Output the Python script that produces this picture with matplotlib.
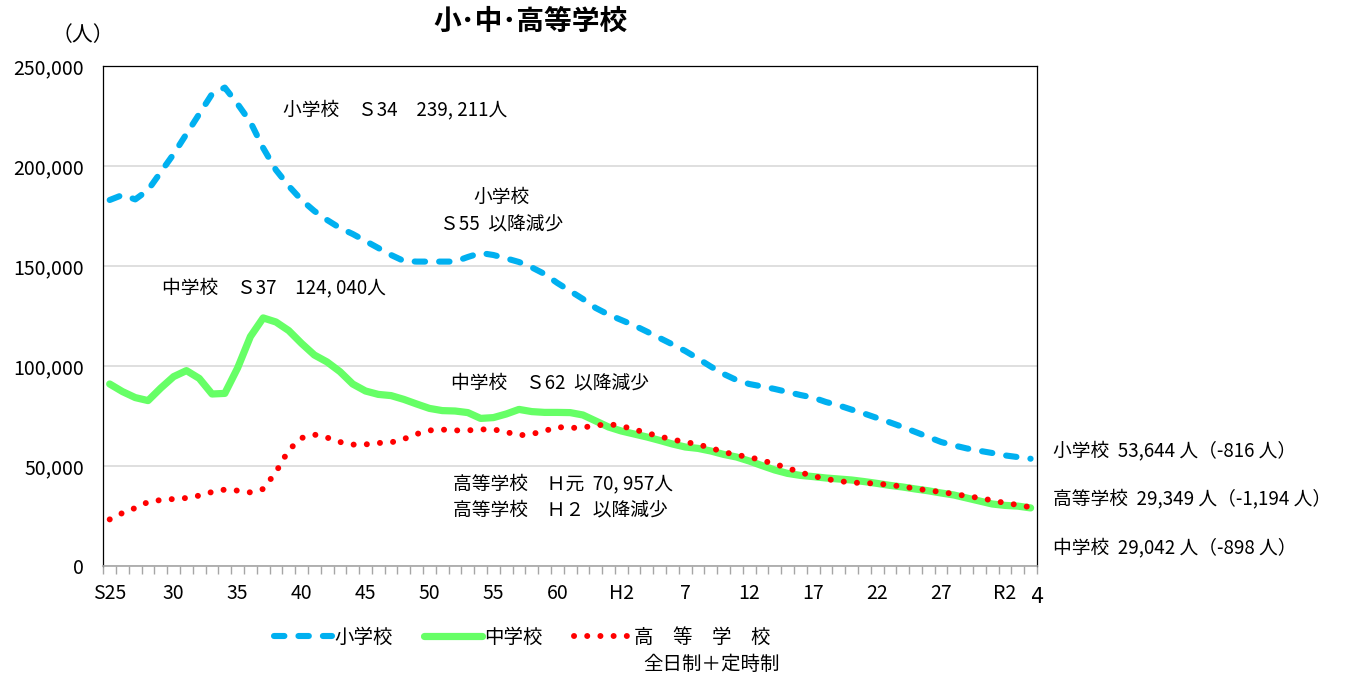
#!/usr/bin/env python
import matplotlib
matplotlib.use('Agg')
import matplotlib.pyplot as plt
from matplotlib.ticker import FuncFormatter, FixedLocator
import matplotlib.transforms as mtransforms

plt.rcParams['font.family'] = ['Noto Sans CJK JP', 'DejaVu Sans']

# 1950 (S25) .. 2022 (R4)
years = list(range(1950, 2023))
tick_years = [1950, 1955, 1960, 1965, 1970, 1975, 1980, 1985, 1990, 1995,
              2000, 2005, 2010, 2015, 2020]
tick_labels = ['S25', '30', '35', '40', '45', '50', '55', '60', 'H2', '7',
               '12', '17', '22', '27', 'R2']

elementary = [
  183000, 185500, 183300, 188000, 197000, 206000, 216000, 226000, 236000, 239211,
  231000, 222000, 209000, 198000, 190000, 183000, 177500, 173000, 169000, 166000,
  162500, 159000, 155500, 152500, 152200, 152200, 152200, 152200, 154500, 156500,
  155500, 153800, 152000, 149300, 146000, 141500, 137500, 133500, 129000, 125700,
  123000, 120300, 117200, 114000, 110800, 107500, 103700, 99700, 96000, 93000,
  91000, 89800, 88500, 87000, 85500, 84200, 82000, 80300, 78200, 76200,
  74000, 71800, 69500, 67000, 64500, 62000, 60300, 58800, 57600, 56500,
  55300, 54460, 53644,
]
junior = [
  91000, 87200, 84200, 82700, 89000, 94700, 97700, 93800, 86000, 86300,
  99000, 114700, 124040, 122000, 117700, 111300, 105500, 102000, 97200, 91000,
  87500, 85800, 85200, 83300, 81000, 78800, 77700, 77500, 76700, 73800,
  74200, 76000, 78300, 77200, 76800, 76800, 76700, 75500, 72500, 69500,
  67500, 66000, 64500, 62800, 61000, 59500, 58800, 57500, 55800, 54500,
  52500, 50200, 48000, 46300, 45300, 44700, 44000, 43500, 43000, 42200,
  41300, 40300, 39500, 38500, 37600, 36500, 35500, 34000, 32500, 31000,
  30300, 29940, 29042,
]
high = [
  23300, 26500, 29000, 32000, 33000, 33500, 34000, 35200, 37000, 38200,
  37700, 36800, 38500, 47000, 58000, 64000, 65700, 64200, 62000, 60700,
  60800, 61500, 61800, 63500, 66000, 67800, 68200, 67800, 67800, 68300,
  68300, 67000, 65300, 66000, 67500, 69500, 69000, 69300, 70200, 70957,
  70000, 68300, 66500, 64800, 63200, 62000, 60800, 59000, 57000, 55500,
  54500, 52800, 51000, 49000, 46800, 45000, 43500, 42500, 41700, 41500,
  41200, 40500, 39700, 38700, 37800, 37000, 36000, 35000, 34000, 32800,
  31500, 30543, 29349,
]

fig = plt.figure(figsize=(13.59, 6.8), dpi=100)
ax = fig.add_axes([103.3 / 1359, 114 / 680, 933.7 / 1359, 500 / 680])

idx = list(range(len(years)))
l_high, = ax.plot(idx, high, color='#ff0000', lw=4.3, linestyle=(0, (0.01, 2.2)),
                  dash_capstyle='round', zorder=4)
l_jr, = ax.plot(idx, junior, color='#66ff66', lw=5.2, solid_capstyle='round',
                solid_joinstyle='round', zorder=3)
l_el, = ax.plot(idx, elementary, color='#00b0f0', lw=4.4, linestyle=(0, (1.7, 2.3)),
                dash_capstyle='round', zorder=5)

ax.set_xlim(-0.5, len(years) - 0.5)
ax.set_ylim(0, 250000)

# axes look
for s in ['left', 'top', 'right']:
  ax.spines[s].set_color('#000000')
  ax.spines[s].set_linewidth(0.9)
ax.spines['bottom'].set_color('#a6a6a6')
ax.spines['bottom'].set_linewidth(1.2)

ax.set_yticks(range(0, 250001, 50000))
ax.yaxis.set_major_formatter(FuncFormatter(lambda v, p: '{:,.0f}'.format(v)))
ax.tick_params(axis='y', length=0, pad=14, labelsize=14)
ax.grid(axis='y', color='#d9d9d9', lw=1.2)
ax.set_axisbelow(True)

ax.set_xticks([years.index(y) for y in tick_years])
ax.set_xticklabels(tick_labels)
ax.xaxis.set_minor_locator(FixedLocator([i - 0.5 for i in range(len(years) + 1)]))
ax.tick_params(axis='x', which='major', length=0, pad=12, labelsize=14)
ax.tick_params(axis='x', which='minor', length=6, color='#a6a6a6', width=1)
for lab in ax.get_yticklabels() + ax.get_xticklabels():
  lab.set_family(['Liberation Sans Narrow', 'Noto Sans CJK JP', 'DejaVu Sans'])

trans = mtransforms.blended_transform_factory(ax.transData, ax.transAxes)
ax.text(len(years) - 0.45, -0.062, '4', transform=trans, ha='center', va='center',
        fontsize=15, family=['Liberation Sans Narrow', 'DejaVu Sans'])

# annotations
def px(x):
  return (x - 103.3) / 12.78 - 0.5

def py(y):
  return (566 - y) * 500

fs = 13.5
ax.text(px(283), py(110), '小学校　Ｓ34　239, 211人', fontsize=fs, va='center')
ax.text(px(501), py(197), '小学校', fontsize=fs, va='center', ha='center')
ax.text(px(501), py(225), 'Ｓ55  以降減少', fontsize=fs, va='center', ha='center')
ax.text(px(162), py(288), '中学校　Ｓ37　124, 040人', fontsize=fs, va='center')
ax.text(px(451), py(383), '中学校　Ｓ62  以降減少', fontsize=fs, va='center')
ax.text(px(453), py(484), '高等学校　Ｈ元  70, 957人', fontsize=fs, va='center')
ax.text(px(453), py(510), '高等学校　Ｈ２  以降減少', fontsize=fs, va='center')

fs2 = 13.5
fig.text(1053 / 1359, 1 - 451 / 680, '小学校  53,644 人（-816 人）', fontsize=fs2, va='center')
fig.text(1053 / 1359, 1 - 499 / 680, '高等学校  29,349 人（-1,194 人）', fontsize=fs2, va='center')
fig.text(1053 / 1359, 1 - 548 / 680, '中学校  29,042 人（-898 人）', fontsize=fs2, va='center')

fig.text(531 / 1359, 1 - 22 / 680, '小･中･高等学校', fontsize=20, fontweight='bold',
         ha='center', va='center')
fig.text(83 / 1359, 1 - 35 / 680, '（人）', fontsize=15, ha='center', va='center')

leg = fig.legend([l_el, l_jr, l_high], ['小学校', '中学校', '高　等　学　校'],
                 loc='center', bbox_to_anchor=(522 / 1359, 1 - 637 / 680), ncol=3,
                 frameon=False, fontsize=14, handlelength=3.0, handletextpad=0.1,
                 columnspacing=1.6)
fig.text(643 / 1359, 1 - 665 / 680, '全日制＋定時制', fontsize=14, va='center')

fig.savefig('out.png', dpi=100)
